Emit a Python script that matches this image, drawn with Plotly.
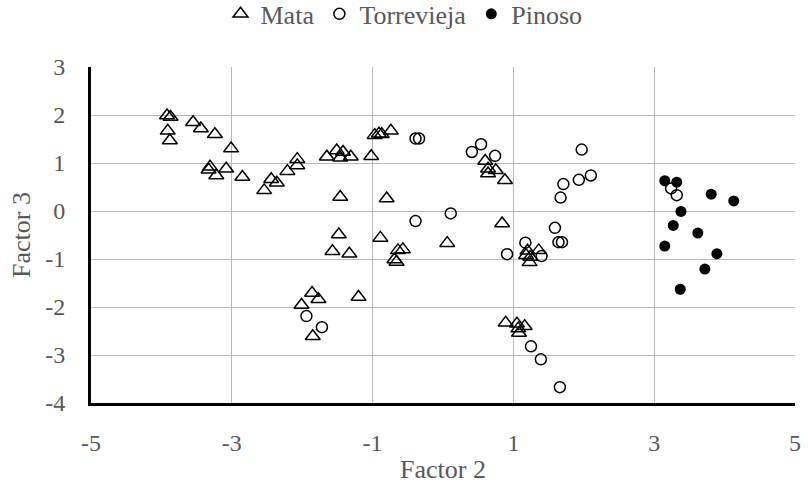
import plotly.graph_objects as go

mata_x = [-3.92, -3.87, -3.91, -3.88, -3.55, -3.44, -3.24, -3.01, -3.31, -3.33, -3.22, -3.08, -2.85,
          -2.44, -2.36, -2.54, -2.21, -2.07, -2.07, -1.65, -1.51, -1.42, -1.46, -1.31, -1.02, -0.97,
          -0.91, -0.87, -0.74, -1.46, -0.80, 0.60, 0.64, 0.75, 0.64, 0.88, 0.84,
          -1.48, -1.57, -1.33, -0.89, -0.64, -0.57, -0.69, -0.66, -1.86, -1.77, -2.01, -1.20, -1.85,
          0.06, 1.20, 1.36, 1.24, 1.23, 1.18, 0.89, 1.05, 1.16, 1.07, 1.08]
mata_y = [1.99, 1.96, 1.67, 1.47, 1.85, 1.72, 1.60, 1.30, 0.92, 0.86, 0.74, 0.88, 0.71,
          0.66, 0.59, 0.43, 0.83, 1.08, 0.95, 1.13, 1.26, 1.23, 1.11, 1.13, 1.14, 1.58,
          1.61, 1.60, 1.67, 0.29, 0.26, 1.04, 0.88, 0.85, 0.78, 0.64, -0.26,
          -0.49, -0.84, -0.89, -0.56, -0.82, -0.80, -1.01, -1.06, -1.71, -1.84, -1.96, -1.79, -2.61,
          -0.67, -0.83, -0.82, -0.96, -1.07, -0.92, -2.33, -2.35, -2.40, -2.45, -2.54]

torre_x = [-0.39, -0.34, -0.39, 0.11, 0.41, 0.54, 0.74, 1.97, 2.10, 1.93, 1.71, 1.67, 1.59,
           3.24, 3.32, -1.94, -1.72, 0.91, 1.17, 1.40, 1.64, 1.69, 1.25, 1.39, 1.66]
torre_y = [1.51, 1.51, -0.21, -0.05, 1.23, 1.39, 1.15, 1.28, 0.74, 0.65, 0.56, 0.28, -0.35,
           0.47, 0.33, -2.19, -2.42, -0.90, -0.66, -0.94, -0.65, -0.65, -2.82, -3.09, -3.67]

pin_x = [3.15, 3.32, 3.81, 4.13, 3.38, 3.27, 3.62, 3.15, 3.89, 3.72, 3.37]
pin_y = [0.63, 0.60, 0.35, 0.21, -0.01, -0.30, -0.46, -0.73, -0.89, -1.21, -1.63]

x_ticks = [-5, -3, -1, 1, 3, 5]
y_ticks = [3, 2, 1, 0, -1, -2, -3, -4]

FONT = "Liberation Serif, DejaVu Serif, serif"
GREY = "#595959"
TICK_SIZE = 24
TITLE_SIZE = 26

fig = go.Figure()
fig.add_trace(go.Scatter(x=mata_x, y=mata_y, mode="markers", name="Mata",
                         marker=dict(symbol="triangle-up-open", size=13, color="black",
                                     line=dict(width=1.5, color="black"))))
fig.add_trace(go.Scatter(x=torre_x, y=torre_y, mode="markers", name="Torrevieja",
                         marker=dict(symbol="circle-open", size=11, color="black",
                                     line=dict(width=1.5, color="black"))))
fig.add_trace(go.Scatter(x=pin_x, y=pin_y, mode="markers", name="Pinoso",
                         marker=dict(symbol="circle", size=11, color="black")))

fig.update_layout(
    width=808, height=497,
    margin=dict(l=91, r=7, t=67, b=94),
    paper_bgcolor="white", plot_bgcolor="white",
    font=dict(family=FONT, size=TICK_SIZE, color=GREY),
    showlegend=True,
    legend=dict(orientation="h", x=0.5, xanchor="center", xref="container",
                y=0.972, yanchor="middle", yref="container",
                font=dict(family=FONT, size=TITLE_SIZE, color=GREY), itemwidth=30,
                tracegroupgap=0),
    xaxis=dict(range=[-5, 5], tickvals=x_ticks, ticktext=[str(v) for v in x_ticks],
               showgrid=True, gridcolor="#b8b8b8", gridwidth=1, zeroline=False,
               showline=True, linecolor="black", linewidth=3, mirror=False,
               ticks="", ticklabelstandoff=16,
               title=dict(text="Factor 2", standoff=6, font=dict(family=FONT, size=TITLE_SIZE, color=GREY)),
               tickfont=dict(family=FONT, size=TICK_SIZE, color=GREY)),
    yaxis=dict(range=[-4, 3], tickvals=y_ticks, ticktext=[str(v) for v in y_ticks],
               showgrid=True, gridcolor="#b8b8b8", gridwidth=1, zeroline=False,
               showline=True, linecolor="black", linewidth=3, mirror=False,
               ticks="", ticklabelstandoff=18,
               title=dict(text="Factor 3", standoff=8, font=dict(family=FONT, size=TITLE_SIZE, color=GREY)),
               tickfont=dict(family=FONT, size=TICK_SIZE, color=GREY)),
)

fig.write_html("out.html")
